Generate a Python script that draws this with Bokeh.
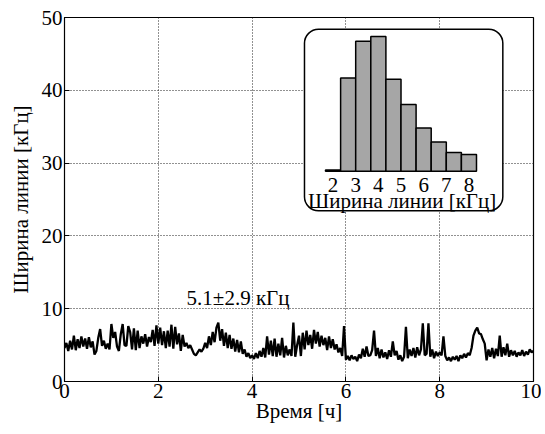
from bokeh.plotting import figure
from bokeh.models import Range1d, Label
from bokeh.core.properties import value
from bokeh.embed import file_html
from bokeh.resources import INLINE

FONT = "Liberation Serif"

# line width time series [kHz], sampled every 0.04 h
width_khz = [
    # 0 h
    4.6, 5.3, 4.2, 5.6, 4.4, 6.3, 4.3, 5.8, 4.6, 6.2, 4.8, 5.9, 4.5, 6.1, 4.7, 5.5, 3.7, 4.2, 6.0, 7.2, 4.9, 5.6, 4.5, 5.2, 4.4,
    # 1 h
    7.9, 6.0, 6.8, 4.8, 4.2, 6.5, 7.9, 5.0, 4.9, 7.6, 6.8, 4.4, 7.3, 4.3, 7.0, 4.6, 6.2, 5.2, 6.5, 4.8, 6.1, 5.4, 7.1, 4.9, 7.7,
    # 2 h
    5.2, 7.4, 5.0, 6.9, 4.6, 7.0, 4.8, 7.8, 4.5, 7.5, 5.1, 6.6, 4.2, 6.4, 4.8, 5.3, 4.6, 5.0, 4.4, 3.8, 3.6, 4.0, 4.4, 4.1, 4.5,
    # 3 h
    5.3, 4.6, 6.2, 5.0, 6.8, 5.4, 7.4, 8.1, 5.6, 7.2, 4.9, 6.7, 4.6, 6.4, 4.5, 5.9, 4.1, 5.7, 4.0, 5.5, 3.8, 4.4, 3.4, 3.9, 3.2,
    # 4 h
    3.6, 3.1, 3.9, 3.2, 4.2, 3.4, 4.6, 3.3, 6.2, 3.7, 5.6, 3.5, 5.9, 3.4, 5.2, 3.6, 6.0, 3.3, 4.9, 3.6, 4.4, 3.5, 8.1, 3.4, 5.0,
    # 5 h
    6.3, 3.5, 6.7, 4.4, 7.0, 5.0, 6.4, 4.5, 7.1, 5.2, 6.8, 4.8, 6.3, 5.0, 6.0, 4.3, 6.2, 4.6, 5.8, 4.4, 5.1, 4.0, 4.6, 3.5, 7.6,
    # 6 h
    3.0, 3.5, 2.9, 3.6, 3.1, 3.4, 2.8, 3.7, 3.2, 4.5, 3.4, 4.8, 3.5, 3.6, 4.3, 7.0, 3.5, 4.6, 3.2, 4.4, 3.3, 4.0, 3.1, 4.3, 3.4,
    # 7 h
    5.5, 3.6, 4.2, 3.0, 3.6, 2.8, 3.4, 7.5, 3.2, 4.4, 3.5, 4.6, 3.3, 4.7, 3.6, 4.4, 8.0, 3.6, 3.8, 8.0, 3.4, 4.4, 3.2, 4.1, 3.5,
    # 8 h
    4.0, 3.6, 6.2, 3.5, 2.9, 3.3, 2.8, 3.4, 3.0, 3.5, 2.8, 3.6, 3.2, 3.8, 3.3, 3.9, 3.6, 4.6, 6.3, 7.0, 7.4, 6.6, 6.5, 5.8, 5.2,
    # 9 h
    2.9, 4.4, 3.4, 4.6, 3.2, 4.5, 3.5, 6.3, 3.4, 4.7, 3.6, 5.2, 3.4, 4.3, 3.6, 4.2, 3.4, 4.0, 3.6, 4.3, 3.5, 4.1, 3.7, 4.4, 4.0,
    4.2,
]
time_h = [round(i * 0.04, 2) for i in range(len(width_khz))]

# inset histogram
hist_centers = [2.0, 2.667, 3.333, 4.0, 4.667, 5.333, 6.0, 6.667, 7.333, 8.0]
hist_counts = [1, 70, 97.5, 101, 69, 50, 32.5, 22, 14, 12.5]
hist_ticks = [2, 3, 4, 5, 6, 7, 8]
hist_tick_labels = ["2", "3", "4", "5", "6", "7", "8"]

x_ticks = [0, 2, 4, 6, 8, 10]
y_ticks = [0, 10, 20, 30, 40, 50]

p = figure(width=541, height=430, x_range=Range1d(0, 10), y_range=Range1d(0, 50),
           output_backend="svg", toolbar_location=None,
           min_border_left=64, min_border_right=8, min_border_top=17, min_border_bottom=49)
p.background_fill_color = "white"
p.border_fill_color = "white"
p.outline_line_color = "black"
p.outline_line_width = 1.2

p.extra_x_ranges = {"hx": Range1d(-9.857, 10.85)}
p.extra_y_ranges = {"hy": Range1d(-157.7, 115.3)}

# axes
for ax in p.axis:
    ax.major_label_text_font = FONT
    ax.major_label_text_font_size = "21px"
    ax.major_label_text_color = "black"
    ax.axis_label_text_font = FONT
    ax.axis_label_text_font_size = "21px"
    ax.axis_label_text_font_style = "normal"
    ax.axis_label_text_color = "black"
    ax.axis_line_color = "black"
    ax.major_tick_in = 5
    ax.major_tick_out = 0
    ax.major_tick_line_color = "black"
    ax.minor_tick_line_color = None
    ax.major_label_standoff = 2
p.xaxis.ticker = x_ticks
p.yaxis.ticker = y_ticks
p.xaxis.axis_label = "Время [ч]"
p.yaxis.axis_label = "Ширина линии [кГц]"
p.xaxis.axis_label_standoff = -2
p.yaxis.axis_label_standoff = 6

p.grid.grid_line_color = "#222222"
p.grid.grid_line_dash = "1 2"
p.grid.grid_line_width = 1

# inset frame
p.quad(left=5.117, right=9.346, top=48.38, bottom=23.46, fill_color="white",
       line_color="black", line_width=1.5, border_radius=14)

p.vbar(x=hist_centers, top=hist_counts, bottom=0, width=0.6667,
       x_range_name="hx", y_range_name="hy",
       fill_color="#a6a6a6", line_color="black", line_width=1.5)

p.text(x=hist_ticks, y=[-10] * len(hist_ticks), text=hist_tick_labels,
       x_range_name="hx", y_range_name="hy",
       text_font=value(FONT), text_font_size="21px", text_color="black",
       text_align="center", text_baseline="middle")
p.text(x=[5.05], y=[-22.5], text=["Ширина линии [кГц]"],
       x_range_name="hx", y_range_name="hy",
       text_font=value(FONT), text_font_size="21px", text_color="black",
       text_align="center", text_baseline="middle")

# main series
p.line(time_h, width_khz, line_color="black", line_width=2.3)

p.add_layout(Label(x=3.7, y=11.5, text="5.1±2.9 кГц", text_font=FONT,
                   text_font_size="21px", text_color="black",
                   text_align="center", text_baseline="middle"))

open("out.html", "w").write(file_html(p, INLINE))
